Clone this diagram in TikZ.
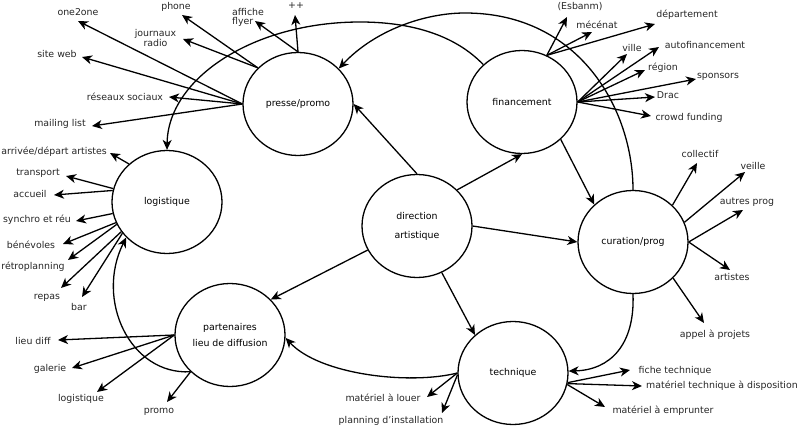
\documentclass[tikz,border=0pt]{standalone}
\usepackage{fontspec}
\setmainfont{DejaVu Sans}
\usetikzlibrary{shapes.geometric,arrows.meta}
\begin{document}
\begin{tikzpicture}[x=1pt,y=-1pt,
  font=\fontsize{9.4}{11}\selectfont,
  circ/.style={draw, ellipse, line width=1.3pt, minimum width=110pt, minimum height=103pt, inner sep=0pt},
  arr/.style={line width=1.3pt, -{Stealth[length=10pt,width=9pt,inset=3pt]}},
  lab/.style={inner sep=1pt, text=black!85},
  ]
\useasboundingbox (0,0) rectangle (800,428);

% main nodes
\node[circ] (pp) at (298,104) {presse/promo};
\node[circ] (fin) at (522,102) {financement};
\node[circ] (log) at (167,202) {logistique};
\node[circ, align=center, font=\fontsize{9.4}{19}\selectfont] (dir) at (417,226) {direction\\artistique};
\node[circ] (cur) at (633,242) {curation/prog};
\node[circ, align=center, font=\fontsize{9.4}{16}\selectfont] (par) at (230,335) {partenaires\\lieu de diffusion};
\node[circ] (tech) at (513,373) {technique};

% main connectors
\draw[arr] (dir.north) -- (pp.east);
\draw[arr] (dir.42) -- (fin.south);
\draw[arr] (dir.east) -- (cur.west);
\draw[arr] (dir.-62) -- (tech.135);
\draw[arr] (dir.206) -- (par.41);
\draw[arr] (fin.-44) -- (cur.136);

\coordinate (k1) at (465,13);
\coordinate (k2) at (360,22);
\draw[arr] (cur.north) .. controls (633,110) and (580,13) .. (k1) .. controls (425,13) and (375,30) .. (pp.41);
\draw[arr] (fin.136) .. controls (450,30) and (400,22) .. (k2) .. controls (254,22) and (168,78) .. (log.north);
\draw[arr] (cur.south) .. controls (635,345) and (610,370) .. (tech.2);
\draw[arr] (tech.west) .. controls (410,385) and (320,375) .. (par.-3);
\draw[arr] (par.223) .. controls (130,375) and (95,300) .. (log.221);

% labels
\node[lab] (l-one2one) at (78,12) {one2one};
\node[lab] (l-phone) at (176,7) {phone};
\node[lab, align=center, font=\fontsize{9.4}{9.4}\selectfont] (l-journaux) at (155.5,38) {journaux\\radio};
\node[lab, align=left, anchor=west, font=\fontsize{9.4}{8.6}\selectfont] (l-affiche) at (231,17.5) {affiche\\flyer};
\node[lab] (l-pp) at (296,6) {++};
\node[lab] (l-site) at (57,54) {site web};
\node[lab] (l-reseaux) at (125,97) {réseaux sociaux};
\node[lab] (l-mailing) at (60,124) {mailing list};

\node[lab] (l-esbanm) at (580,7) {(Esbanm)};
\node[lab] (l-mecenat) at (597,25) {mécénat};
\node[lab] (l-dept) at (687,15) {département};
\node[lab] (l-ville) at (632,48) {ville};
\node[lab] (l-autofin) at (705,45) {autofinancement};
\node[lab] (l-region) at (663,68) {région};
\node[lab] (l-sponsors) at (718,77) {sponsors};
\node[lab] (l-drac) at (668,95) {Drac};
\node[lab] (l-crowd) at (689,118) {crowd funding};

\node[lab, anchor=east] (l-arrivee) at (108,152) {arrivée/départ artistes};
\node[lab] (l-transport) at (38,173) {transport};
\node[lab] (l-accueil) at (30,194) {accueil};
\node[lab] (l-synchro) at (37,220) {synchro et réu};
\node[lab] (l-benevoles) at (31,245) {bénévoles};
\node[lab] (l-retro) at (33,267) {rétroplanning};
\node[lab] (l-repas) at (47,298) {repas};
\node[lab] (l-bar) at (79,307) {bar};

\node[lab] (l-lieudiff) at (33,341) {lieu diff};
\node[lab] (l-galerie) at (50,369) {galerie};
\node[lab] (l-logistique) at (81,399) {logistique};
\node[lab] (l-promo) at (159,412) {promo};

\node[lab] (l-louer) at (383,398) {matériel à louer};
\node[lab] (l-planning) at (391,421) {planning d'installation};
\node[lab] (l-fiche) at (675,371) {fiche technique};
\node[lab, anchor=east] (l-dispo) at (799,386) {matériel technique à disposition};
\node[lab] (l-emprunter) at (663,411) {matériel à emprunter};

\node[lab] (l-collectif) at (700,154) {collectif};
\node[lab] (l-veille) at (753,166) {veille};
\node[lab] (l-autres) at (747,202) {autres prog};
\node[lab] (l-artistes) at (732,277) {artistes};
\node[lab] (l-appel) at (715,335) {appel à projets};

% arrow tips
\coordinate (t-one2one) at (78,21);
\coordinate (t-phone) at (182,15);
\coordinate (t-journaux) at (183,39);
\coordinate (t-affiche) at (255,21);
\coordinate (t-pp) at (295,15);
\coordinate (t-site) at (82,57);
\coordinate (t-reseaux) at (169,97);
\coordinate (t-mailing) at (92,126);

\coordinate (t-esbanm) at (567,17);
\coordinate (t-mecenat) at (592,32);
\coordinate (t-dept) at (655,24);
\coordinate (t-ville) at (627,54);
\coordinate (t-autofin) at (659,47);
\coordinate (t-region) at (645,70);
\coordinate (t-sponsors) at (696,79);
\coordinate (t-drac) at (655,97);
\coordinate (t-crowd) at (651,116);

\coordinate (t-arrivee) at (110,153);
\coordinate (t-transport) at (66,176);
\coordinate (t-accueil) at (54,195);
\coordinate (t-synchro) at (76,221);
\coordinate (t-benevoles) at (63,244);
\coordinate (t-retro) at (68,260);
\coordinate (t-repas) at (61,288);
\coordinate (t-bar) at (82,297);

\coordinate (t-lieudiff) at (58,340);
\coordinate (t-galerie) at (72,368);
\coordinate (t-logistique) at (97,392);
\coordinate (t-promo) at (167,402);

\coordinate (t-louer) at (427,397);
\coordinate (t-planning) at (442,413);
\coordinate (t-fiche) at (630,370);
\coordinate (t-dispo) at (642,386);
\coordinate (t-emprunter) at (605,407);

\coordinate (t-collectif) at (697,163);
\coordinate (t-veille) at (745,172);
\coordinate (t-autres) at (743,210);
\coordinate (t-artistes) at (730,270);
\coordinate (t-appel) at (704,323);

% fans
\foreach \t in {one2one,site,reseaux,mailing} \draw[arr] (pp.west) -- (t-\t);
\foreach \t in {phone,journaux} \draw[arr] (pp.138) -- (t-\t);
\foreach \t in {affiche,pp} \draw[arr] (pp.north) -- (t-\t);

\foreach \t in {esbanm,mecenat,dept} \draw[arr] (fin.62) -- (t-\t);
\foreach \t in {ville,autofin,region,sponsors,drac,crowd} \draw[arr] (fin.east) -- (t-\t);

\draw[arr] (log.135) -- (t-arrivee);
\draw[arr] (log.166) -- (t-transport);
\draw[arr] (log.168) -- (t-accueil);
\draw[arr] (log.192) -- (t-synchro);
\draw[arr] (log.202) -- (t-benevoles);
\draw[arr] (log.204) -- (t-retro);
\draw[arr] (log.213) -- (t-repas);
\draw[arr] (log.215) -- (t-bar);

\foreach \t in {lieudiff,galerie,logistique} \draw[arr] (par.west) -- (t-\t);
\draw[arr] (par.223) -- (t-promo);

\draw[arr] (tech.west) -- (t-louer);
\draw[arr] (tech.182) -- (t-planning);
\draw[arr] (tech.-10) -- (t-fiche);
\draw[arr] (tech.-11) -- (t-dispo);
\draw[arr] (tech.-12) -- (t-emprunter);

\draw[arr] (cur.43) -- (t-collectif);
\draw[arr] (cur.21) -- (t-veille);
\draw[arr] (cur.east) -- (t-autres);
\draw[arr] (cur.east) -- (t-artistes);
\draw[arr] (cur.-42) -- (t-appel);
\end{tikzpicture}
\end{document}
